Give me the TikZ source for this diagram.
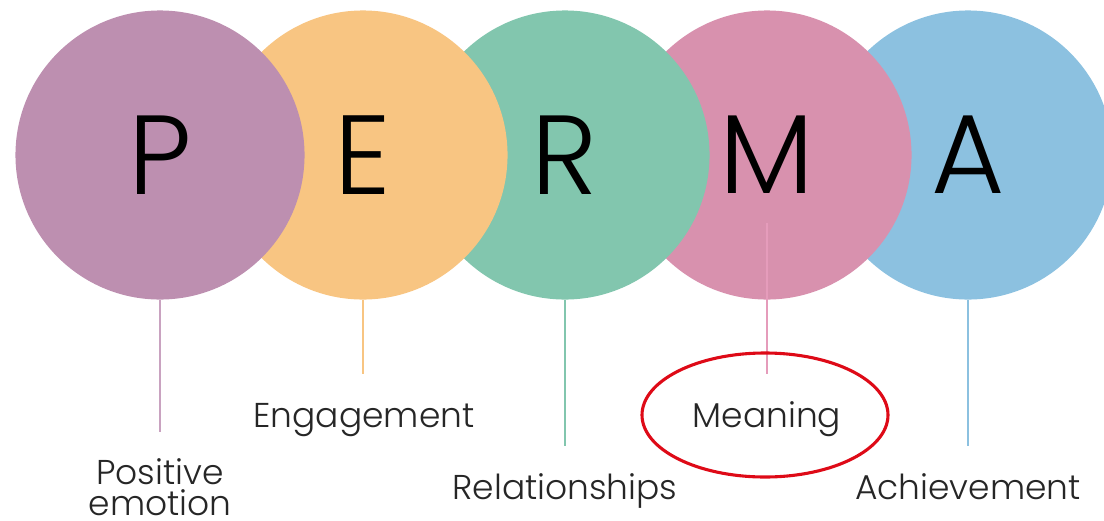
\documentclass[tikz,border=0pt]{standalone}
\usepackage{fontspec}
\setmainfont{Poppins Light}
\usepackage{tikz}
\definecolor{colP}{HTML}{BD8FB0}
\definecolor{colE}{HTML}{F8C582}
\definecolor{colR}{HTML}{82C6AE}
\definecolor{colM}{HTML}{D891AE}
\definecolor{colA}{HTML}{8CC1E0}
\definecolor{lineP}{HTML}{C9A2C0}
\definecolor{lineM}{HTML}{E59CBB}
\definecolor{ringred}{HTML}{DE0A17}
\tikzset{
	ball/.style={circle, inner sep=0pt, minimum size=7.225cm, font=\fontsize{80}{80}\selectfont},
	lbl/.style={anchor=base, align=center, font=\fontsize{24.5}{22}\selectfont, text=black!85},
	stem/.style={line width=1.4pt}
}
\begin{document}
\begin{tikzpicture}[x=0.025cm, y=-0.025cm]
							\useasboundingbox (0,0) rectangle (1104,520);
							\clip (0,0) rectangle (1104,520);
							% circles, right to left so that each lies over the next
							\node[ball, fill=colA] (A) at (968,155) {A};
							\node[ball, fill=colM] (M) at (767,155) {M};
							\node[ball, fill=colR] (R) at (565,155) {R};
							\node[ball, fill=colE] (E) at (363,155) {E};
							\node[ball, fill=colP] (P) at (160,155) {P};
							
							\coordinate (Pend) at (160,432);
							\coordinate (Eend) at (363,374);
							\coordinate (Rend) at (565,446);
							\coordinate (Mtop) at (767,223);
							\coordinate (Mend) at (767,374);
							\coordinate (Aend) at (968,446);
							\draw[stem, lineP] (P.south) -- (Pend);
							\draw[stem, colE] (E.south) -- (Eend);
							\draw[stem, colR] (R.south) -- (Rend);
							\draw[stem, lineM] (Mtop) -- (Mend);
							\draw[stem, colA] (A.south) -- (Aend);
							
							\node[lbl] (pos) at (160,515) {Positive \\ emotion};
							\node[lbl] (eng) at (364,427) {Engagement};
							\node[lbl] (rel) at (565,499) {Relationships};
							\node[lbl] (mea) at (767,427) {Meaning};
							\node[lbl] (ach) at (968,499) {Achievement};
							
							\draw[ringred, line width=2.2pt] (765,415) ellipse (123 and 62);
\end{tikzpicture}
\end{document}
